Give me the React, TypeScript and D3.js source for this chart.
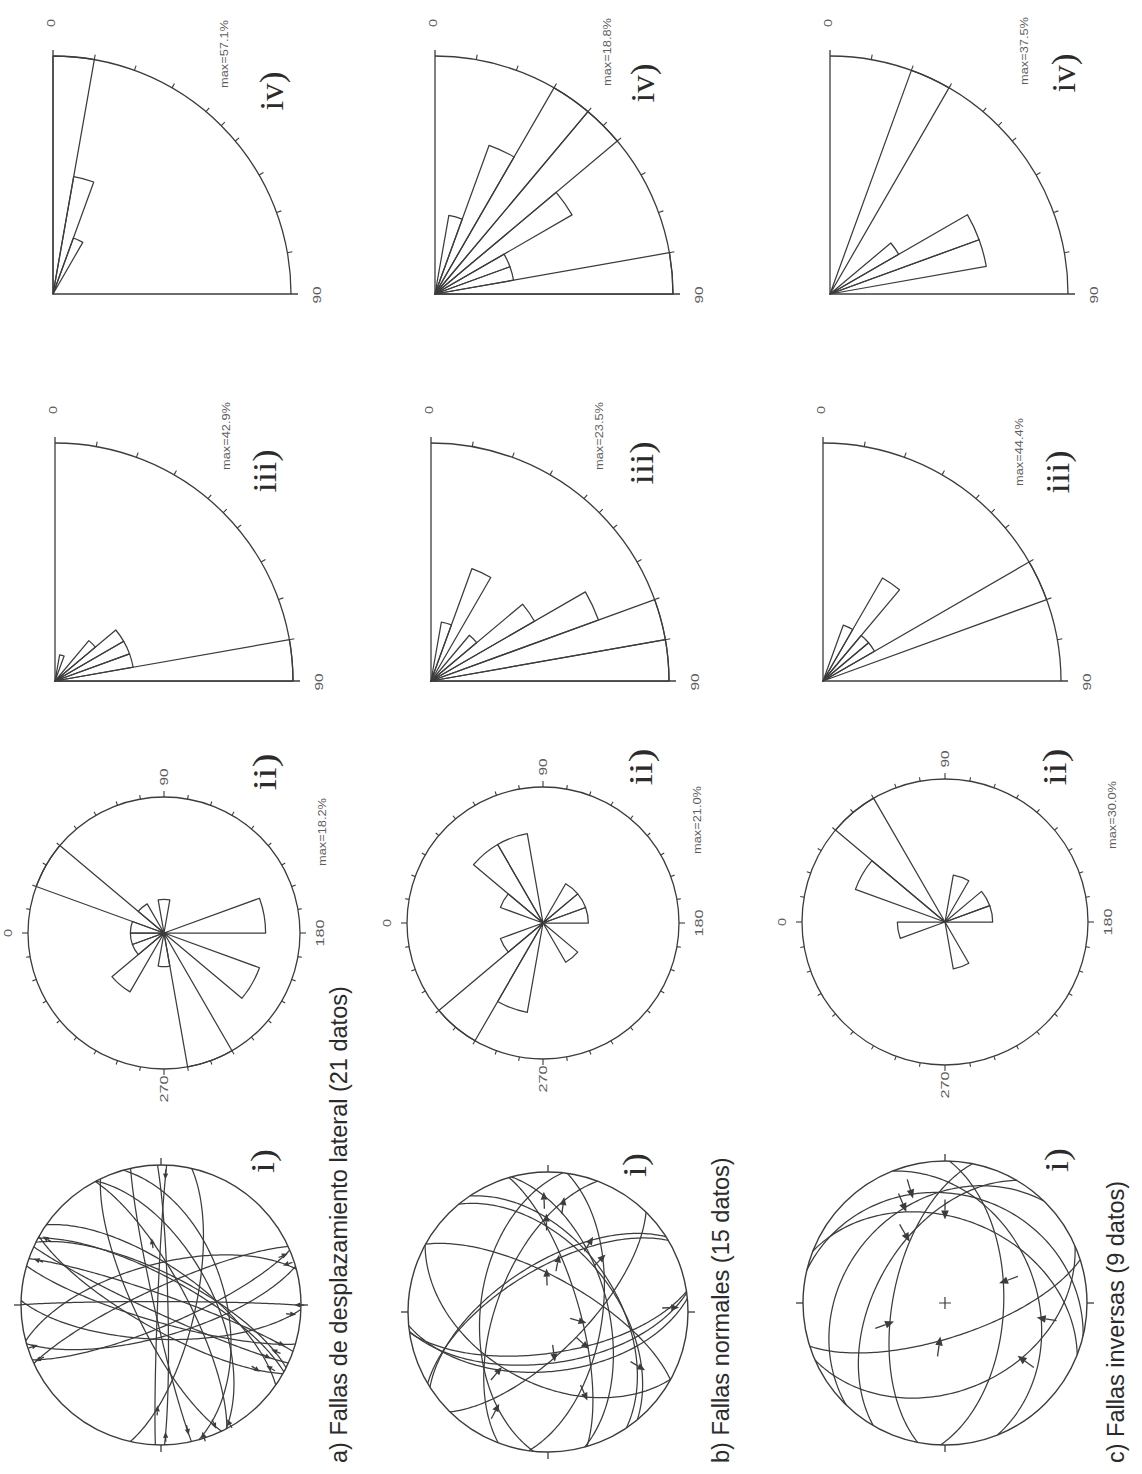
import React from 'react';
import * as d3 from 'd3';

const W = 1142;
const H = 1474;
const DEG = Math.PI / 180;
const INK = '#3c3c3c';
const SOFT = '#5c5c5c';

// Fault families (one row each)
const familyTitles = [
  'a) Fallas de desplazamiento lateral (21 datos)',
  'b) Fallas normales (15 datos)',
  'c) Fallas inversas (9 datos)',
];
const diagramTags = ['i)', 'ii)', 'iii)', 'iv)'];

// Dip-direction roses: 20° classes, percent of data
const roseClassStarts = d3.range(0, 360, 20);
const roseStrikeSlip = [4.5, 18.2, 4.5, 0, 4.5, 0, 0, 0, 13.6, 0, 13.6, 0, 18.2, 4.5, 0, 9.1, 4.5, 4.5];
const roseNormal = [0, 7.0, 14.0, 14.0, 0, 0, 7.0, 7.0, 7.0, 0, 0, 7.0, 0, 0, 14.0, 21.0, 7.0, 0];
const roseReverse = [0, 20.0, 30.0, 0, 0, 10.0, 0, 10.0, 10.0, 0, 0, 0, 10.0, 0, 0, 0, 0, 10.0];
const roseMax = [18.2, 21.0, 30.0];

// Quarter roses of dip angles: 10° classes from 0 to 90, percent of data
const dipClassStarts = d3.range(0, 90, 10);
const dipStrikeSlipIII = [0, 4.8, 0, 0, 9.5, 14.3, 14.3, 14.3, 42.9];
const dipStrikeSlipIV = [57.1, 28.6, 14.3, 0, 0, 0, 0, 0, 0];
const dipNormalIII = [0, 5.9, 11.8, 0, 5.9, 11.8, 17.6, 23.5, 23.5];
const dipNormalIV = [0, 6.3, 12.5, 18.8, 18.8, 12.5, 6.3, 6.3, 18.8];
const dipReverseIII = [0, 0, 11.1, 22.2, 11.1, 11.1, 44.4, 0, 0];
const dipReverseIV = [0, 0, 37.5, 0, 0, 12.5, 25.0, 25.0, 0];
const quadMaxIII = [42.9, 23.5, 44.4];
const quadMaxIV = [57.1, 18.8, 37.5];

// Striae (trend / plunge), dip of the fault plane holding them, side of the plane, slip sense
const trendA = [198, 202, 206, 210, 214, 240, 246, 252, 258, 180, 184, 82, 272, 336, 342, 20, 92, 158, 268, 30, 162];
const plungeA = [10, 14, 16, 12, 18, 4, 6, 3, 8, 3, 6, 52, 27, 4, 6, 6, 9, 5, 8, 5, 7];
const dipA = [80, 72, 85, 68, 76, 60, 75, 52, 86, 88, 70, 75, 70, 80, 72, 84, 88, 78, 86, 74, 66];
const sideA = [1, -1, 1, -1, 1, -1, 1, -1, 1, -1, 1, 1, -1, 1, -1, 1, -1, 1, -1, 1, -1];
const senseA = [1, -1, 1, -1, 1, -1, 1, -1, 1, -1, 1, 1, -1, 1, -1, 1, -1, 1, -1, 1, -1];

const trendB = [88, 98, 89, 121, 135, 101, 88, 196, 222, 262, 178, 211, 246, 310, 298];
const plungeB = [18, 21, 33, 40, 44, 58, 67, 69, 60, 63, 10, 23, 34, 45, 24];
const dipB = [55, 60, 50, 62, 58, 65, 70, 72, 66, 68, 60, 52, 48, 55, 50];
const sideB = [1, -1, 1, -1, 1, -1, 1, -1, 1, -1, 1, -1, 1, -1, 1];
const senseB = [1, 1, 1, 1, 1, 1, 1, 1, 1, 1, 1, 1, 1, -1, -1];

const trendC = [73, 67, 90, 60, 160, 189, 216, 278, 340];
const plungeC = [21, 28, 38, 46, 54, 32, 34, 68, 56];
const dipC = [24, 30, 40, 50, 56, 36, 38, 70, 60];
const sideC = [1, -1, 1, -1, 1, -1, 1, -1, 1];
const senseC = [-1, -1, -1, -1, -1, -1, -1, -1, -1];

// Page layout of each row (page is set sideways: north / 0° points left)
const rows = [
  { sx: 161, sy: 1305, sR: 140, rx: 164, ry: 933, rR: 136, q3x: 55, q4x: 53, titleX: 347,
    tag: [[265, 1161], [267, 772], [267, 471], [274, 91]], mx: [[322, 832], [226, 436], [224, 54]] },
  { sx: 548, sy: 1312, sR: 140, rx: 543, ry: 923, rR: 136, q3x: 431, q4x: 435, titleX: 729,
    tag: [[637, 1165], [643, 767], [644, 463], [645, 83]], mx: [[697, 820], [599, 436], [607, 52]] },
  { sx: 945, sy: 1303, sR: 142, rx: 945, ry: 922, rR: 143, q3x: 823, q4x: 830, titleX: 1124,
    tag: [[1059, 1160], [1057, 767], [1060, 472], [1066, 73]], mx: [[1112, 815], [1019, 452], [1024, 51]] },
];
const Q3Y = 681;
const Q4Y = 294;
const QR = 238;

type TP = {
  x: number; y: number; size: number; family: string; fill: string;
  anchor?: string; len?: number; weight?: string; children: React.ReactNode;
};
// Text set along the sideways page (reads bottom to top)
function SideText({ x, y, size, family, fill, anchor = 'middle', len, weight, children }: TP) {
  return (
    <text
      transform={`translate(${x},${y}) rotate(-90)`}
      fontSize={size}
      fontFamily={family}
      fontWeight={weight}
      fill={fill}
      textAnchor={anchor}
      textLength={len}
      lengthAdjust={len ? 'spacingAndGlyphs' : undefined}
    >
      {children}
    </text>
  );
}

function SmallLabel({ cx, cy, text, len }: { cx: number; cy: number; text: string; len: number }) {
  return (
    <SideText x={cx + 3.6} y={cy} size={10} family="Liberation Sans, Arial, sans-serif" fill={SOFT} len={len}>
      {text}
    </SideText>
  );
}

// Lower-hemisphere equal-area projection of a direction given as (north, east, down)
function projector(cx: number, cy: number, R: number) {
  return (n: number, e: number, d: number): [number, number] => {
    const pl = Math.asin(Math.max(-1, Math.min(1, d)));
    const h = Math.hypot(n, e);
    const r = R * Math.SQRT2 * Math.sin((Math.PI / 2 - pl) / 2);
    if (h < 1e-9) return [cx, cy];
    return [cx - (r * n) / h, cy - (r * e) / h];
  };
}

type NetProps = {
  cx: number; cy: number; R: number;
  trend: number[]; plunge: number[]; dip: number[]; side: number[]; sense: number[];
  cross?: boolean; arrowLen: number; headLen: number; headW: number;
};

function Stereonet({ cx, cy, R, trend, plunge, dip, side, sense, cross, arrowLen, headLen, headW }: NetProps) {
  const proj = projector(cx, cy, R);
  const line = d3.line();
  const planes = trend.map((t, i) => {
    const p = plunge[i] * DEG;
    const dp = dip[i] * DEG;
    const off = Math.acos(Math.min(1, Math.tan(p) / Math.tan(dp))) / DEG;
    const dd = (t + side[i] * off) * DEG;
    const s = [Math.cos(dd - Math.PI / 2), Math.sin(dd - Math.PI / 2), 0];
    const dv = [Math.cos(dp) * Math.cos(dd), Math.cos(dp) * Math.sin(dd), Math.sin(dp)];
    const pts = d3.range(0, 180.5, 1.5).map((a) => {
      const c = Math.cos(a * DEG);
      const sn = Math.sin(a * DEG);
      return proj(c * s[0] + sn * dv[0], c * s[1] + sn * dv[1], c * s[2] + sn * dv[2]);
    });
    return line(pts) as string;
  });
  const arrows = trend.map((t, i) => {
    const tr = t * DEG;
    const p = plunge[i] * DEG;
    const [px, py] = proj(Math.cos(p) * Math.cos(tr), Math.cos(p) * Math.sin(tr), Math.sin(p));
    const ux = -Math.cos(tr) * sense[i];
    const uy = -Math.sin(tr) * sense[i];
    const tip: [number, number] = [px + (ux * headLen) / 2, py + (uy * headLen) / 2];
    const bx = px - (ux * headLen) / 2;
    const by = py - (uy * headLen) / 2;
    const qx = -uy * headW;
    const qy = ux * headW;
    const tail: [number, number] = [bx - ux * (arrowLen - headLen), by - uy * (arrowLen - headLen)];
    return (
      <g key={i}>
        <line x1={tail[0]} y1={tail[1]} x2={bx} y2={by} stroke={INK} strokeWidth={1.3} />
        <polygon points={`${tip[0]},${tip[1]} ${bx + qx},${by + qy} ${bx - qx},${by - qy}`} fill={INK} />
      </g>
    );
  });
  return (
    <g>
      <circle cx={cx} cy={cy} r={R} fill="none" stroke={INK} strokeWidth={1.4} />
      {[0, 90, 180, 270].map((a) => (
        <line key={a}
          x1={cx - R * Math.cos(a * DEG)} y1={cy - R * Math.sin(a * DEG)}
          x2={cx - (R + 7) * Math.cos(a * DEG)} y2={cy - (R + 7) * Math.sin(a * DEG)}
          stroke={INK} strokeWidth={1.3} />
      ))}
      {planes.map((d, i) => (
        <path key={i} d={d} fill="none" stroke={INK} strokeWidth={1.25} />
      ))}
      {arrows}
      {cross && (
        <path d={`M${cx - 6},${cy}H${cx + 6}M${cx},${cy - 6}V${cy + 6}`} stroke={INK} strokeWidth={1.2} />
      )}
    </g>
  );
}

function Rose({ cx, cy, R, values, max }: { cx: number; cy: number; R: number; values: number[]; max: number }) {
  const r = d3.scaleLinear().domain([0, max]).range([0, R]);
  const arc = d3.arc<any>();
  return (
    <g>
      <circle cx={cx} cy={cy} r={R} fill="none" stroke={INK} strokeWidth={1.3} />
      {d3.range(0, 360, 10).map((a) => {
        const len = a % 90 === 0 ? 6 : 4;
        return (
          <line key={a}
            x1={cx - R * Math.cos(a * DEG)} y1={cy - R * Math.sin(a * DEG)}
            x2={cx - (R + len) * Math.cos(a * DEG)} y2={cy - (R + len) * Math.sin(a * DEG)}
            stroke={INK} strokeWidth={1.1} />
        );
      })}
      <g transform={`translate(${cx},${cy})`}>
        {values.map((v, i) =>
          v > 0 ? (
            <path key={i}
              d={arc({ innerRadius: 0, outerRadius: r(v),
                startAngle: (roseClassStarts[i] - 90) * DEG,
                endAngle: (roseClassStarts[i] + 20 - 90) * DEG }) as string}
              fill="none" stroke={INK} strokeWidth={1.25} strokeLinejoin="round" />
          ) : null
        )}
      </g>
      <SmallLabel cx={cx - R - 20} cy={cy} text="0" len={8} />
      <SmallLabel cx={cx} cy={cy - R - 20} text="90" len={17} />
      <SmallLabel cx={cx + R + 20} cy={cy} text="180" len={27} />
      <SmallLabel cx={cx} cy={cy + R + 20} text="270" len={27} />
    </g>
  );
}

function Quadrant({ vx, vy, R, values, max }: { vx: number; vy: number; R: number; values: number[]; max: number }) {
  const r = d3.scaleLinear().domain([0, max]).range([0, R]);
  const arc = d3.arc<any>();
  const outline = d3.path();
  outline.moveTo(vx, vy - R);
  outline.arc(vx, vy, R, -Math.PI / 2, 0);
  const ticks = [10, 20, 30, 40, 45, 50, 60, 70, 80];
  return (
    <g>
      <path d={outline.toString()} fill="none" stroke={INK} strokeWidth={1.3} />
      <line x1={vx} y1={vy} x2={vx} y2={vy - R - 6} stroke={INK} strokeWidth={1.3} />
      <line x1={vx} y1={vy} x2={vx + R + 7} y2={vy} stroke={INK} strokeWidth={1.3} />
      {ticks.map((a) => (
        <line key={a}
          x1={vx + R * Math.sin(a * DEG)} y1={vy - R * Math.cos(a * DEG)}
          x2={vx + (R + 5) * Math.sin(a * DEG)} y2={vy - (R + 5) * Math.cos(a * DEG)}
          stroke={INK} strokeWidth={1.1} />
      ))}
      <g transform={`translate(${vx},${vy})`}>
        {values.map((v, i) =>
          v > 0 ? (
            <path key={i}
              d={arc({ innerRadius: 0, outerRadius: r(v),
                startAngle: dipClassStarts[i] * DEG,
                endAngle: (dipClassStarts[i] + 10) * DEG }) as string}
              fill="none" stroke={INK} strokeWidth={1.25} strokeLinejoin="round" />
          ) : null
        )}
      </g>
      <SmallLabel cx={vx - 2} cy={vy - R - 33} text="0" len={8} />
      <SmallLabel cx={vx + R + 26} cy={vy + 1} text="90" len={17} />
    </g>
  );
}

const tagLens = [24, 37, 43, 39];

export default function App() {
  const roses = [roseStrikeSlip, roseNormal, roseReverse];
  const q3 = [dipStrikeSlipIII, dipNormalIII, dipReverseIII];
  const q4 = [dipStrikeSlipIV, dipNormalIV, dipReverseIV];
  const nets = [
    { trend: trendA, plunge: plungeA, dip: dipA, side: sideA, sense: senseA, arrowLen: 10, headLen: 6, headW: 2.6 },
    { trend: trendB, plunge: plungeB, dip: dipB, side: sideB, sense: senseB, arrowLen: 17, headLen: 8, headW: 3.4 },
    { trend: trendC, plunge: plungeC, dip: dipC, side: sideC, sense: senseC, arrowLen: 20, headLen: 9, headW: 3.8 },
  ];
  return (
    <svg width={W} height={H} viewBox={`0 0 ${W} ${H}`}
      style={{ position: 'absolute', left: 0, top: 0, background: '#fff' }}>
      <rect x={0} y={0} width={W} height={H} fill="#fff" />
      {rows.map((row, k) => (
        <g key={k}>
          <Stereonet cx={row.sx} cy={row.sy} R={row.sR} {...nets[k]} cross={k === 2} />
          <Rose cx={row.rx} cy={row.ry} R={row.rR} values={roses[k]} max={roseMax[k]} />
          <Quadrant vx={row.q3x} vy={Q3Y} R={QR} values={q3[k]} max={quadMaxIII[k]} />
          <Quadrant vx={row.q4x} vy={Q4Y} R={QR} values={q4[k]} max={quadMaxIV[k]} />
          <SideText x={row.titleX} y={1463} size={23.5} family="Liberation Sans, Arial, sans-serif"
            fill="#2b2b2b" anchor="start">
            {familyTitles[k]}
          </SideText>
          {diagramTags.map((t, j) => (
            <SideText key={j} x={row.tag[j][0] + 8.7} y={row.tag[j][1]} size={34}
              family="Liberation Serif, Times New Roman, serif" fill="#2b2b2b" len={tagLens[j]}>
              {t}
            </SideText>
          ))}
          {[roseMax[k], quadMaxIII[k], quadMaxIV[k]].map((m, j) => (
            <SideText key={j} x={row.mx[j][0] + 4} y={row.mx[j][1]} size={11.5}
              family="Liberation Sans, Arial, sans-serif" fill={SOFT} len={68}>
              {`max=${m.toFixed(1)}%`}
            </SideText>
          ))}
        </g>
      ))}
    </svg>
  );
}
